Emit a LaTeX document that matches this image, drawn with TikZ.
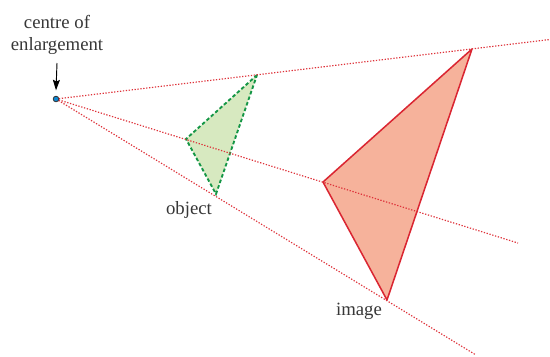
\documentclass[tikz,border=0pt]{standalone}
\usepackage{fontspec}
\setmainfont{Liberation Serif}
\usetikzlibrary{arrows.meta}

\definecolor{raycol}{RGB}{222,50,58}
\definecolor{objfill}{RGB}{215,233,192}
\definecolor{objline}{RGB}{20,150,70}
\definecolor{imgfill}{RGB}{246,178,155}
\definecolor{imgline}{RGB}{218,38,50}
\definecolor{txtcol}{RGB}{55,55,55}

\tikzset{
  ray/.style={raycol, line width=1pt, dash pattern=on 1.1pt off 1.4pt},
  objtri/.style={fill=objfill, draw=objline, line width=1.6pt, dash pattern=on 3pt off 2pt},
  imgtri/.style={fill=imgfill, draw=imgline, line width=1.3pt, line join=round},
  lbl/.style={text=txtcol, font=\fontsize{16}{18}\selectfont, align=center, inner sep=0pt},
}

\begin{document}
\begin{tikzpicture}[x=0.03cm, y=-0.03cm]
    \useasboundingbox (0,0) rectangle (550,356);

    % centre and vertices
    \coordinate (c) at (56,99);
    \coordinate (a) at (257,75);
    \coordinate (b) at (186,139);
    \coordinate (d) at (216,194);
    \coordinate (ai) at (472,49);
    \coordinate (bi) at (323,182);
    \coordinate (di) at (387,300);
    \coordinate (r1) at (550,39.5);
    \coordinate (r2) at (518,243);
    \coordinate (r3) at (476,355);

    % triangles
    \draw[imgtri] (ai) -- (bi) -- (di) -- cycle;
    \draw[objtri] (a) -- (b) -- (d) -- cycle;

    % rays from the centre
    \draw[ray] (c) -- (r1);
    \draw[ray] (c) -- (r2);
    \draw[ray] (c) -- (r3);

    \filldraw[fill=cyan!70!blue, draw=black!80, line width=0.7pt] (c) circle (2.8);

    % labels
    \node[lbl, anchor=base] (cl) at (57,50) {centre of\\enlargement};
    \coordinate (ct) at (57,63);
    \draw[-{Stealth[length=9pt,width=6pt,inset=1.5pt]}, line width=0.8pt] (ct) -- ([yshift=0.26cm]c);
    \node[lbl, anchor=base] (ol) at (189,214) {object};
    \node[lbl, anchor=base] (il) at (359,315) {image};
\end{tikzpicture}
\end{document}
